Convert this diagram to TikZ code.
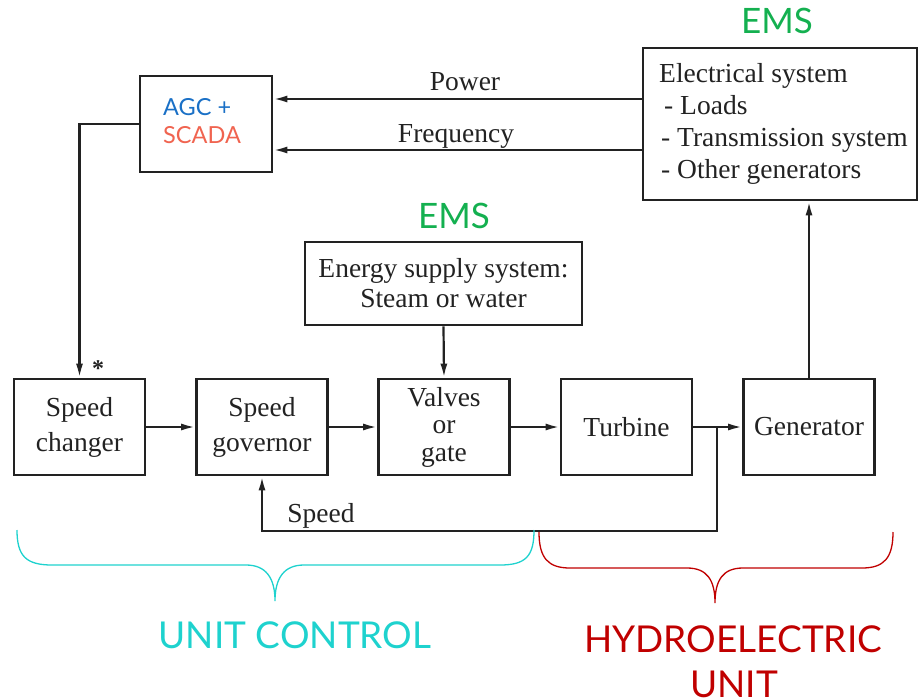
\documentclass[tikz,border=0pt]{standalone}
\usepackage{fontspec}
\setmainfont{Liberation Serif}
\newfontfamily\lato{Lato}
\usetikzlibrary{arrows.meta}
\definecolor{inkc}{HTML}{222222}
\definecolor{emsgreen}{HTML}{14B050}
\definecolor{agcblue}{HTML}{1A70C6}
\definecolor{scadared}{HTML}{F06450}
\definecolor{unitcyan}{HTML}{1ED2CE}
\definecolor{hydrored}{HTML}{C00000}
\tikzset{
  blk/.style={draw=inkc, line width=2.7pt, minimum width=131pt, minimum height=96pt,
    align=center, inner sep=0pt, text=inkc, font=\fontsize{27.5}{35}\selectfont},
  flow/.style={draw=inkc, line width=2.2pt, -{Latex[length=14pt,width=7pt]}},
  lbl/.style={text=inkc, font=\fontsize{27.5}{32}\selectfont, inner sep=0pt, anchor=base},
  emslbl/.style={text=emsgreen, font=\lato\fontsize{35}{40}\selectfont, inner sep=0pt, anchor=base},
  grouplbl/.style={font=\lato\fontsize{37}{44}\selectfont, inner sep=0pt, anchor=base},
  brace/.style={line width=1.3pt}
}
\begin{document}
\begin{tikzpicture}[x=1pt,y=-1pt]
\useasboundingbox (0,0) rectangle (918,699);

% --- upper blocks ---
\node[blk, minimum width=132pt] (agc) at (206,124) {};
\node[anchor=base west, inner sep=0pt, font=\lato\fontsize{23.5}{28}\selectfont, text=agcblue] (agct) at (163,115) {AGC +};
\node[anchor=base west, inner sep=0pt, font=\lato\fontsize{23.5}{28}\selectfont, text=scadared] (scadat) at (163,143) {SCADA};

\node[blk, minimum width=274pt, minimum height=152pt] (elec) at (780,124) {};
\node[anchor=north west, inner sep=0pt, align=left, text=inkc, font=\fontsize{27.5}{32.2}\selectfont] (elect) at (659,63)
  {Electrical system\\ \hspace{5pt}- Loads\\ \hspace{2pt}- Transmission system\\ \hspace{2pt}- Other generators};
\node[emslbl] (ems1) at (777,33) {EMS};

\node[blk, minimum width=277pt, minimum height=83pt, font=\fontsize{27.5}{30}\selectfont] (energy) at (443.5,283.5)
  {Energy supply system:\\ Steam or water};
\node[emslbl] (ems2) at (454,228) {EMS};

% --- lower row ---
\node[blk] (sc) at (79.5,427) {Speed\\ changer};
\node[blk] (sg) at (262,427) {Speed\\ governor};
\node[blk, font=\fontsize{27.5}{27.5}\selectfont] (vg) at (444,427) {Valves\\ or\\ gate};
\node[blk] (tu) at (626.5,427) {Turbine};
\node[blk] (ge) at (809,427) {Generator};

% --- signal paths ---
\draw[flow] ([yshift=25pt]elec.west) -- ([yshift=25pt]agc.east);
\draw[flow] ([yshift=-26pt]elec.west) -- ([yshift=-26pt]agc.east);
\node[lbl] (pw) at (465,90) {Power};
\node[lbl] (fq) at (456,142) {Frequency};

\draw[flow] (agc.west) -| (sc.north);
\node[inner sep=0pt, text=inkc, font=\bfseries\fontsize{24}{24}\selectfont] (star) at (98,369) {*};

\draw[flow] (sc) -- (sg);
\draw[flow] (sg) -- (vg);
\draw[flow] (vg) -- (tu);
\draw[flow] (tu) -- (ge);
\draw[flow] (energy.south) -- (vg.north);
\draw[flow] (ge.north) -- (ge.north |- elec.south);

\coordinate (tap) at (717,427);
\coordinate (fb) at (717,531);
\draw[flow] (tap) -- (fb) -| (sg.south);
\node[lbl] (spd) at (321,522) {Speed};

% --- grouping braces ---
\draw[brace, unitcyan] (17,530) .. controls (17,556) and (26,565) .. (52,565)
  -- (246,565) .. controls (266,565) and (275,578) .. (275,601)
  .. controls (275,578) and (284,565) .. (304,565)
  -- (500,565) .. controls (526,565) and (534,556) .. (534,530);
\draw[brace, hydrored] (539,532) .. controls (539,558) and (548,568) .. (570,568)
  -- (687,568) .. controls (707,568) and (715,580) .. (715,603)
  .. controls (715,580) and (723,568) .. (743,568)
  -- (862,568) .. controls (884,568) and (893,558) .. (893,532);

\node[grouplbl, text=unitcyan] (uc) at (295,648) {UNIT CONTROL};
\node[grouplbl, text=hydrored] (hy) at (733,652) {HYDROELECTRIC};
\node[grouplbl, text=hydrored] (hu) at (734,697) {UNIT};
\end{tikzpicture}
\end{document}
